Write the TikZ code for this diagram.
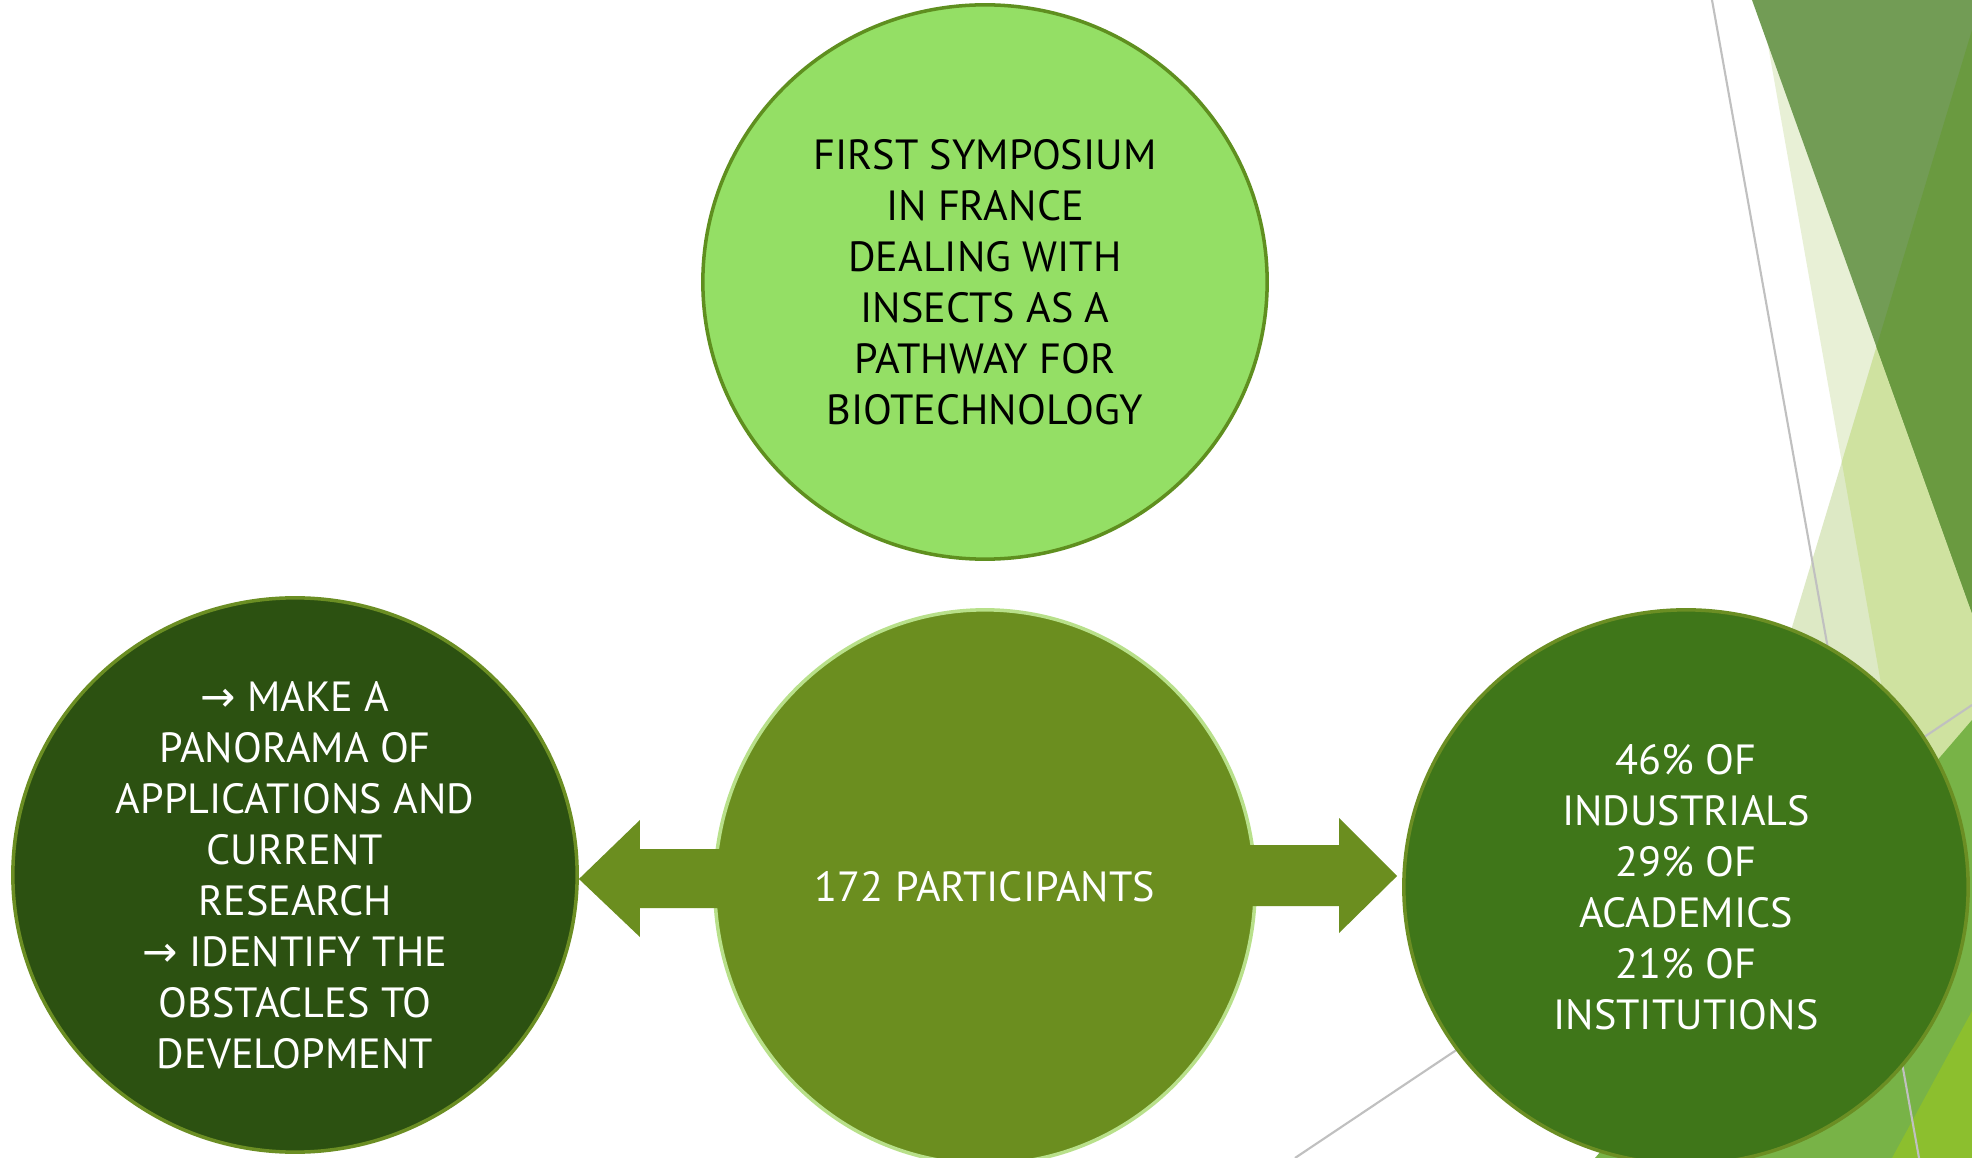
\documentclass[tikz,border=0pt]{standalone}
\usepackage{fontspec}
\setmainfont{PT Sans}
\newfontfamily\arrowfont{DejaVu Sans}
\usepackage{xcolor}
\definecolor{topFill}{HTML}{94DF65}
\definecolor{topBorder}{HTML}{5F8F1F}
\definecolor{leftFill}{HTML}{2C5111}
\definecolor{midFill}{HTML}{6B8E1F}
\definecolor{midBorder}{HTML}{B8E08A}
\definecolor{rightFill}{HTML}{3F7619}
\definecolor{olive}{HTML}{6B8E23}
\definecolor{facetDark}{HTML}{729C55}
\definecolor{facetDarkBoth}{HTML}{6A9A40}
\definecolor{facetLightest}{HTML}{E8F0D6}
\definecolor{facetLight}{HTML}{DDE9C5}
\definecolor{facetLightBoth}{HTML}{CFE2A0}
\definecolor{facetGreen}{HTML}{78B347}
\definecolor{facetBright}{HTML}{8CBF2E}
\definecolor{facetLine}{HTML}{C0C0C0}
\usetikzlibrary{shapes.geometric, calc}

\begin{document}
\begin{tikzpicture}[
    x=0.01cm, y=-0.01cm,
    bubble/.style={
        ellipse,
        line width=1pt,
        minimum width=5.64cm,
        minimum height=5.54cm,
        inner sep=0pt,
        align=center,
        font=\fontsize{12}{14.5}\selectfont
    },
    topbubble/.style={bubble, draw=topBorder, fill=topFill, text=black},
    leftbubble/.style={bubble, draw=olive, fill=leftFill, text=white},
    midbubble/.style={bubble, draw=midBorder, fill=midFill, text=white, minimum width=5.40cm},
    rightbubble/.style={bubble, draw=olive, fill=rightFill, text=white},
    blockarrow/.style={fill=midFill},
    facetrule/.style={draw=facetLine, line width=0.6pt}
]
\useasboundingbox (0,0) rectangle (1972,1158);
\fill[white] (0,0) rectangle (1972,1158);

% Facet background
\fill[facetLightest] (1760,0) -- (1965,1158) -- (1972,1158) -- (1972,0) -- cycle;
\fill[facetLight] (1972,30) -- (1632,1158) -- (1972,1158) -- cycle;
\begin{scope}
    \clip (1760,0) -- (1965,1158) -- (1972,1158) -- (1972,0) -- cycle;
    \fill[facetLightBoth] (1972,30) -- (1632,1158) -- (1972,1158) -- cycle;
\end{scope}
\fill[facetDark] (1752,0) -- (1972,0) -- (1972,613) -- cycle;
\begin{scope}
    \clip (1752,0) -- (1972,0) -- (1972,613) -- cycle;
    \fill[facetDarkBoth] (1972,30) -- (1632,1158) -- (1972,1158) -- cycle;
\end{scope}
\fill[facetGreen] (1972,720) -- (1595,1158) -- (1972,1158) -- cycle;
\fill[facetBright] (1972,1011) -- (1892,1158) -- (1972,1158) -- cycle;
\draw[facetrule] (1712,0) -- (1919,1158);
\draw[facetrule] (1295,1158) -- (1972,705);

% Circles
\node[topbubble] (symposium) at (985,282) {FIRST SYMPOSIUM\\IN FRANCE\\DEALING WITH\\INSECTS AS A\\PATHWAY FOR\\BIOTECHNOLOGY};
\node[leftbubble] (goals) at (295,875) {{\arrowfont →} MAKE A\\PANORAMA OF\\APPLICATIONS AND\\CURRENT\\RESEARCH\\{\arrowfont →} IDENTIFY THE\\OBSTACLES TO\\DEVELOPMENT};
\node[midbubble] (participants) at (985,887) {172 PARTICIPANTS};
\node[rightbubble] (shares) at (1686,887) {46\% OF\\INDUSTRIALS\\29\% OF\\ACADEMICS\\21\% OF\\INSTITUTIONS};

% Block arrows
\fill[blockarrow] (goals.east) ++(0,4) -- ++(61,-59) -- ++(0,29) -- ++(92,0) -- ++(0,59) -- ++(-92,0) -- ++(0,29) -- cycle;
\fill[blockarrow] (shares.west) ++(-5,-11) -- ++(-58,-58) -- ++(0,27) -- ++(-102,0) -- ++(0,61) -- ++(102,0) -- ++(0,27) -- cycle;

\end{tikzpicture}
\end{document}
